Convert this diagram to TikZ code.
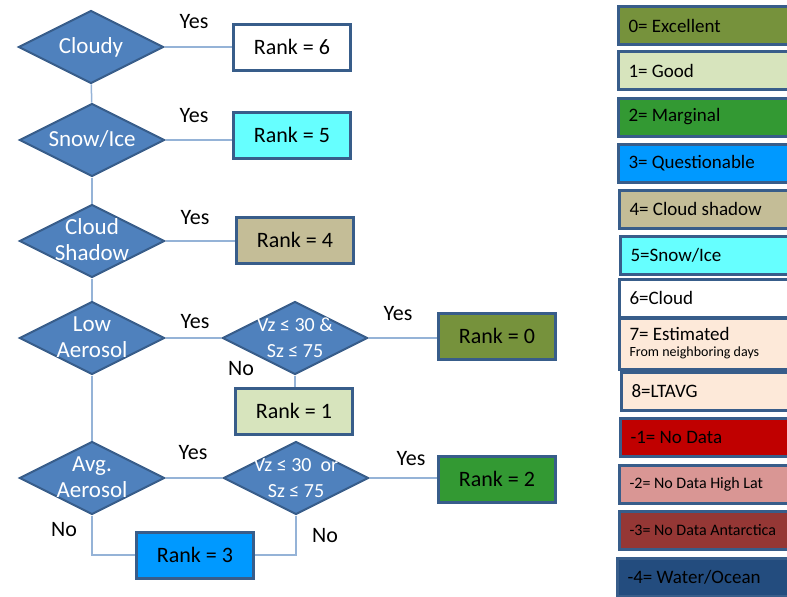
\documentclass[tikz,border=0pt]{standalone}
\usepackage{fontspec}
\setmainfont{Carlito}
\usetikzlibrary{shapes.geometric,positioning}

\definecolor{decfill}{HTML}{4F81BD}
\definecolor{decline}{HTML}{385D8A}
\definecolor{linkcol}{HTML}{95B3D7}
\definecolor{rkexc}{HTML}{76923C}
\definecolor{rkgood}{HTML}{D7E4BD}
\definecolor{rkmarg}{HTML}{339933}
\definecolor{rkquest}{HTML}{0099FF}
\definecolor{rkshadow}{HTML}{C4BD97}
\definecolor{rksnow}{HTML}{66FFFF}
\definecolor{rkest}{HTML}{FDE9D9}
\definecolor{rknodata}{HTML}{C00000}
\definecolor{rkhilat}{HTML}{D99694}
\definecolor{rkantarc}{HTML}{953735}
\definecolor{rkwater}{HTML}{234C7E}

\tikzset{
  decision/.style={diamond, fill=decfill, draw=decline, line width=1pt,
    minimum width=72.5pt, minimum height=36.5pt, inner sep=0pt,
    text=white, font=\fontsize{11.5}{13}\selectfont},
  rankbox/.style={rectangle, draw=decline, line width=1.5pt,
    minimum width=58.5pt, minimum height=23pt, font=\fontsize{11}{13}\selectfont},
  keybox/.style={rectangle, draw=decline, line width=1.5pt, anchor=west,
    minimum width=110pt, minimum height=19pt, inner xsep=5pt,
    font=\fontsize{9.5}{11}\selectfont},
  answer/.style={font=\fontsize{11}{13}\selectfont},
  link/.style={draw=linkcol, line width=0.75pt}
}

\newcommand{\dlab}[1]{\makebox[0pt]{\smash{\raisebox{-3.5pt}{\begin{tabular}{@{}c@{}}#1\end{tabular}}}}}
\newcommand{\keytxt}[1]{\makebox[100pt][l]{#1}}

\begin{document}
\begin{tikzpicture}[x=0.5pt,y=-0.5pt]
    \useasboundingbox (0,0) rectangle (787,596);
    \clip (0,0) rectangle (787,596);
    % decisions
    \node[decision] at (91,47) (7f3a91c2) {\dlab{Cloudy}};
    \node[decision] at (92,140) (1b8e4d07) {\dlab{Snow/Ice}};
    \node[decision] at (92,241) (e05c2a6f) {\dlab{Cloud\\Shadow}};
    \node[decision] at (92,338) (9a41c3b8) {\dlab{Low\\Aerosol}};
    \node[decision] at (92,478) (3d7f06e1) {\dlab{Avg.\\Aerosol}};
    \node[decision] at (295,338) (c82b5e94) {\dlab{\fontsize{10}{12}\selectfont Vz ≤ 30 \&\\\fontsize{10}{12}\selectfont Sz ≤ 75}};
    \node[decision] at (296,478) (06ad91f3) {\dlab{\fontsize{10}{12}\selectfont Vz ≤ 30~ or\\\fontsize{10}{12}\selectfont Sz ≤ 75}};
    % ranks
    \node[rankbox,fill=white] at (292,47) (4e9b2c70) {Rank = 6};
    \node[rankbox,fill=rksnow] at (292,135) (b17d08a5) {Rank = 5};
    \node[rankbox,fill=rkshadow] at (295,240) (58c3f1e2) {Rank = 4};
    \node[rankbox,fill=rkexc] at (497,336) (f2a6704d) {Rank = 0};
    \node[rankbox,fill=rkgood] at (294,411) (2c05e8b9) {Rank = 1};
    \node[rankbox,fill=rkmarg] at (497,479) (8d4b13c6) {Rank = 2};
    \node[rankbox,fill=rkquest] at (195,555) (a960d27e) {Rank = 3};
    % answers
    \node[answer] at (194,22) (0b7e3f19) {Yes};
    \node[answer] at (194,116) (d2c6a870) {Yes};
    \node[answer] at (195,218) (61f09b3d) {Yes};
    \node[answer] at (195,322) (aa37c5e0) {Yes};
    \node[answer] at (398,314) (4c8d2b96) {Yes};
    \node[answer] at (193,453) (e9150f7a) {Yes};
    \node[answer] at (411,459) (75b2e6c1) {Yes};
    \node[answer] at (241,369) (19fa4d08) {No};
    \node[answer] at (64,530) (b3e862a5) {No};
    \node[answer] at (325,536) (8f0c1d7b) {No};
    % key
    \node[keybox,fill=rkexc] at (617,25.5) (c4a10e93) {\keytxt{0= Excellent}};
    \node[keybox,fill=rkgood] at (617,70.5) (5e27b8d1) {\keytxt{1= Good}};
    \node[keybox,fill=rkmarg] at (617,117) (a08f4c62) {\keytxt{2= Marginal}};
    \node[keybox,fill=rkquest] at (617,163.5) (37d9e1b4) {\keytxt{3= Questionable}};
    \node[keybox,fill=rkshadow] at (618,209) (fb6c2a05) {\keytxt{4= Cloud shadow}};
    \node[keybox,fill=rksnow] at (619,255) (0d94b7e8) {\keytxt{5=Snow/Ice}};
    \node[keybox,fill=white] at (618,298) (6a3f5c21) {\keytxt{6=Cloud}};
    \node[keybox,fill=rkest] at (618,344) (e27d0b9f) {\keytxt{\begin{tabular}{@{}l@{}}7= Estimated\\[-3pt]{\fontsize{7}{8}\selectfont From neighboring days}\end{tabular}}};
    \node[keybox,fill=rkest] at (620,391) (92b1f6c7) {\keytxt{8=LTAVG}};
    \node[keybox,fill=rknodata] at (619,437.5) (4fd80a3e) {\keytxt{-1= No Data}};
    \node[keybox,fill=rkhilat] at (618,484) (b85e2d14) {\keytxt{\fontsize{8}{10}\selectfont -2= No Data High Lat}};
    \node[keybox,fill=rkantarc] at (618,530) (1c6f93a7) {\keytxt{\fontsize{8}{10}\selectfont -3= No Data Antarctica}};
    \node[keybox,fill=rkwater] at (616,577) (d59e07b2) {\keytxt{-4= Water/Ocean}};
    % links
    \path[link]
    (7f3a91c2) edge (4e9b2c70)
    (1b8e4d07) edge (1b8e4d07 -| b17d08a5.west)
    (e05c2a6f) edge (e05c2a6f -| 58c3f1e2.west)
    (9a41c3b8) edge (c82b5e94)
    (c82b5e94) edge (c82b5e94 -| f2a6704d.west)
    (c82b5e94) edge (c82b5e94 |- 2c05e8b9.north)
    (3d7f06e1) edge (06ad91f3)
    (06ad91f3) edge (06ad91f3 -| 8d4b13c6.west)
    (7f3a91c2) edge (1b8e4d07)
    (1b8e4d07) edge (e05c2a6f)
    (e05c2a6f) edge (9a41c3b8)
    (9a41c3b8) edge (3d7f06e1)
    ;
    \draw[link] (3d7f06e1.south) |- (a960d27e.west);
    \draw[link] (06ad91f3.south) |- (a960d27e.east);
\end{tikzpicture}
\end{document}
